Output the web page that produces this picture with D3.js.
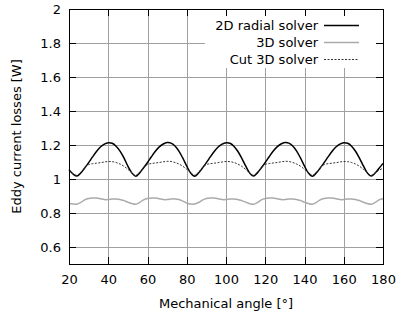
<!DOCTYPE html>
<html>
<head>
<meta charset="utf-8">
<script src="https://cdn.jsdelivr.net/npm/d3@7"></script>
<style>
  html, body { margin: 0; padding: 0; background: #fff; }
  #chart svg { display: block; font-family: "DejaVu Sans", sans-serif; }
</style>
</head>
<body>
<div id="chart"></div>
<script>
// ===========================
// Eddy current losses vs mechanical angle
// ===========================

const angles = [
    20, 22, 24, 26, 28, 30, 32, 34, 36, 38, 40, 42, 44, 46, 48, 50, 52,
    54, 56, 58, 60, 62, 64, 66, 68, 70, 72, 74, 76, 78, 80, 82,
    84, 86, 88, 90, 92, 94, 96, 98, 100, 102, 104, 106, 108, 110, 112,
    114, 116, 118, 120, 122, 124, 126, 128, 130, 132, 134, 136, 138, 140, 142,
    144, 146, 148, 150, 152, 154, 156, 158, 160, 162, 164, 166, 168, 170, 172,
    174, 176, 178, 180
];

const radial2D = [
    1.055, 1.030, 1.017, 1.035, 1.065, 1.096, 1.130, 1.162, 1.188, 1.205, 1.213, 1.210, 1.193, 1.164, 1.124, 1.076, 1.036,
    1.016, 1.036, 1.066, 1.097, 1.131, 1.163, 1.189, 1.206, 1.214, 1.211, 1.194, 1.164, 1.123, 1.076, 1.035,
    1.016, 1.035, 1.065, 1.096, 1.130, 1.162, 1.188, 1.205, 1.213, 1.210, 1.193, 1.163, 1.123, 1.077, 1.036,
    1.017, 1.036, 1.066, 1.097, 1.131, 1.163, 1.189, 1.206, 1.214, 1.211, 1.194, 1.164, 1.123, 1.076, 1.035,
    1.016, 1.035, 1.065, 1.096, 1.130, 1.162, 1.188, 1.205, 1.213, 1.210, 1.193, 1.163, 1.123, 1.077, 1.036,
    1.017, 1.035, 1.063, 1.092
];

const solver3D = [
    0.856, 0.853, 0.852, 0.862, 0.877, 0.885, 0.888, 0.888, 0.884, 0.879, 0.879, 0.882, 0.883, 0.880, 0.873, 0.864, 0.856,
    0.852, 0.862, 0.877, 0.885, 0.888, 0.888, 0.884, 0.879, 0.879, 0.882, 0.883, 0.879, 0.870, 0.859, 0.853,
    0.853, 0.862, 0.876, 0.885, 0.888, 0.888, 0.884, 0.879, 0.879, 0.882, 0.883, 0.880, 0.873, 0.864, 0.855,
    0.851, 0.861, 0.877, 0.885, 0.888, 0.888, 0.884, 0.879, 0.879, 0.882, 0.883, 0.880, 0.873, 0.864, 0.856,
    0.852, 0.862, 0.877, 0.885, 0.888, 0.888, 0.884, 0.879, 0.879, 0.882, 0.883, 0.880, 0.873, 0.864, 0.856,
    0.852, 0.862, 0.877, 0.884
];

const cut3D = [
    1.048, 1.031, 1.022, 1.040, 1.066, 1.085, 1.090, 1.093, 1.096, 1.100, 1.103, 1.102, 1.097, 1.088, 1.075, 1.057, 1.037,
    1.022, 1.040, 1.066, 1.086, 1.091, 1.094, 1.097, 1.101, 1.104, 1.103, 1.097, 1.088, 1.075, 1.057, 1.037,
    1.022, 1.040, 1.066, 1.085, 1.090, 1.093, 1.096, 1.100, 1.103, 1.102, 1.097, 1.088, 1.075, 1.057, 1.037,
    1.022, 1.040, 1.066, 1.086, 1.091, 1.094, 1.097, 1.101, 1.104, 1.103, 1.097, 1.088, 1.075, 1.057, 1.037,
    1.022, 1.040, 1.066, 1.085, 1.090, 1.093, 1.096, 1.100, 1.103, 1.102, 1.097, 1.088, 1.075, 1.057, 1.037,
    1.022, 1.036, 1.052, 1.063
];

const xTicks = [20, 40, 60, 80, 100, 120, 140, 160, 180];
const yTicks = [0.6, 0.8, 1, 1.2, 1.4, 1.6, 1.8, 2];
const yTickLabels = ['0.6', '0.8', '1', '1.2', '1.4', '1.6', '1.8', '2'];

const seriesNames = ['2D radial solver', '3D solver', 'Cut 3D solver'];

const width = 396, height = 320;
const margin = { top: 9, right: 13, bottom: 56, left: 69 };
const innerW = width - margin.left - margin.right;
const innerH = height - margin.top - margin.bottom;

const svg = d3.select('#chart')
    .append('svg')
    .attr('width', width)
    .attr('height', height);

const g = svg.append('g')
    .attr('transform', `translate(${margin.left},${margin.top})`);

// Scales
const xScale = d3.scaleLinear().domain([20, 180]).range([0, innerW]);
const yScale = d3.scaleLinear().domain([0.5, 2]).range([innerH, 0]);

// Grid
const gridX = g.append('g')
    .attr('transform', `translate(0,${innerH})`)
    .call(d3.axisBottom(xScale).tickValues(xTicks).tickSize(-innerH).tickFormat(''));
const gridY = g.append('g')
    .call(d3.axisLeft(yScale).tickValues(yTicks).tickSize(-innerW).tickFormat(''));
[gridX, gridY].forEach(ax => {
    ax.select('.domain').remove();
    ax.selectAll('line')
        .attr('stroke', '#a0a0a0')
        .attr('stroke-width', 1)
        .attr('shape-rendering', 'crispEdges');
});

// Legend background (opaque key)
const legendX = 136, legendW = innerW - 136, legendH = 59;
g.append('rect')
    .attr('x', legendX)
    .attr('y', 0)
    .attr('width', legendW)
    .attr('height', legendH)
    .attr('fill', '#fff');

// Lines
const series = [
    { name: seriesNames[0], values: radial2D, color: '#000', width: 1.5, dash: null },
    { name: seriesNames[1], values: solver3D, color: '#aaaaaa', width: 1.5, dash: null },
    { name: seriesNames[2], values: cut3D, color: '#333', width: 1, dash: '2,1.5' }
];

const line = d3.line()
    .x(d => xScale(d[0]))
    .y(d => yScale(d[1]))
    .curve(d3.curveCatmullRom);

series.forEach(s => {
    g.append('path')
        .datum(angles.map((a, i) => [a, s.values[i]]))
        .attr('d', line)
        .attr('fill', 'none')
        .attr('stroke', s.color)
        .attr('stroke-width', s.width)
        .attr('stroke-dasharray', s.dash);
});

// Inward ticks on all four sides
const tickLen = 7;
const axes = [
    g.append('g').attr('transform', `translate(0,${innerH})`)
        .call(d3.axisBottom(xScale).tickValues(xTicks).tickSize(-tickLen).tickFormat('')),
    g.append('g')
        .call(d3.axisTop(xScale).tickValues(xTicks).tickSize(-tickLen).tickFormat('')),
    g.append('g')
        .call(d3.axisLeft(yScale).tickValues(yTicks).tickSize(-tickLen).tickFormat('')),
    g.append('g').attr('transform', `translate(${innerW},0)`)
        .call(d3.axisRight(yScale).tickValues(yTicks).tickSize(-tickLen).tickFormat(''))
];
axes.forEach(ax => {
    ax.select('.domain').remove();
    ax.selectAll('line')
        .attr('stroke', '#000')
        .attr('stroke-width', 1)
        .attr('shape-rendering', 'crispEdges');
});

// Border
g.append('rect')
    .attr('x', 0.5)
    .attr('y', 0.5)
    .attr('width', innerW)
    .attr('height', innerH - 0.5)
    .attr('fill', 'none')
    .attr('stroke', '#000')
    .attr('stroke-width', 1)
    .attr('shape-rendering', 'crispEdges');

// Tick labels
const xLabels = g.append('g')
    .attr('transform', `translate(0,${innerH})`)
    .call(d3.axisBottom(xScale).tickValues(xTicks).tickSize(0).tickPadding(11).tickFormat(d3.format('d')));
const yLabels = g.append('g')
    .call(d3.axisLeft(yScale).tickValues(yTicks).tickSize(0).tickPadding(8)
        .tickFormat((d, i) => yTickLabels[i]));
[xLabels, yLabels].forEach(ax => {
    ax.select('.domain').remove();
    ax.selectAll('text')
        .attr('fill', '#000')
        .style('font-size', '13px')
        .style('font-family', '"DejaVu Sans", sans-serif');
});

// Axis titles
g.append('text')
    .attr('x', innerW / 2)
    .attr('y', innerH + 44)
    .attr('text-anchor', 'middle')
    .style('font-size', '13px')
    .text('Mechanical angle [°]');

g.append('text')
    .attr('transform', 'rotate(-90)')
    .attr('x', -innerH / 2)
    .attr('y', -48)
    .attr('text-anchor', 'middle')
    .style('font-size', '13px')
    .text('Eddy current losses [W]');

// Legend entries
const legend = g.append('g');
series.forEach((s, i) => {
    const y = 16 + i * 17;
    legend.append('text')
        .attr('x', 249)
        .attr('y', y)
        .attr('dy', '0.35em')
        .attr('text-anchor', 'end')
        .style('font-size', '13px')
        .text(s.name);
    legend.append('line')
        .attr('x1', 255)
        .attr('x2', 290)
        .attr('y1', y + 0.5)
        .attr('y2', y + 0.5)
        .attr('stroke', s.color)
        .attr('stroke-width', s.width)
        .attr('stroke-dasharray', s.dash);
});
</script>
</body>
</html>
